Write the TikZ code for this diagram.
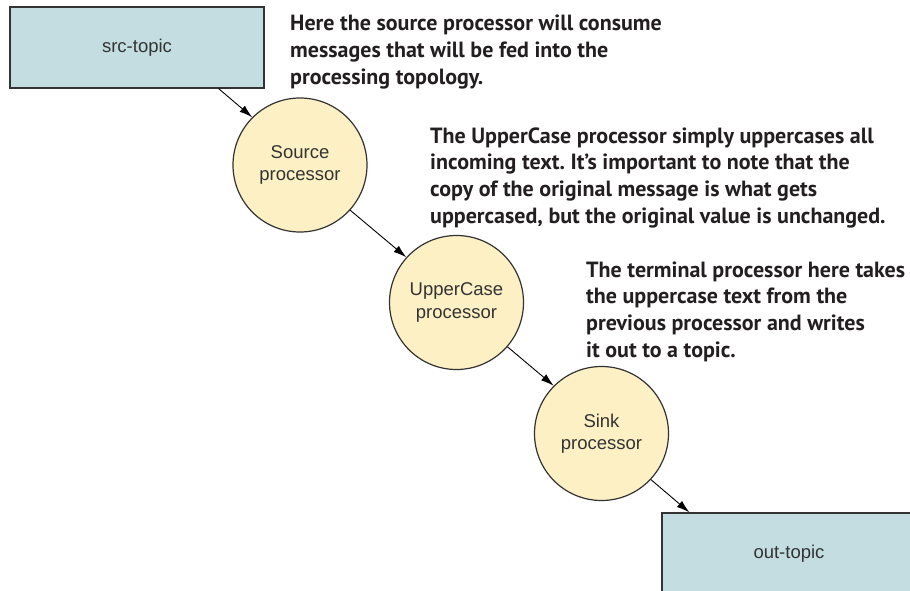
\documentclass[tikz,border=0pt]{standalone}
\usepackage{fontspec}
\setmainfont{Liberation Sans}
\newfontfamily\notefont{PT Sans}
\usetikzlibrary{arrows.meta}
\definecolor{topicfill}{HTML}{C4DDE1}
\definecolor{procfill}{HTML}{FDF0C5}
\definecolor{edgegray}{HTML}{333333}
\definecolor{notetext}{HTML}{231F20}
\frenchspacing
\begin{document}
\begin{tikzpicture}[x=1pt,y=-1pt,
  topic/.style={draw=edgegray, line width=1.2pt, fill=topicfill,
    minimum width=254pt, minimum height=81pt, inner sep=0pt,
    font=\fontsize{18.5}{22.3}\selectfont, text=edgegray},
  proc/.style={circle, draw=edgegray, line width=1.2pt, fill=procfill,
    minimum size=134pt, inner sep=0pt, align=center,
    font=\fontsize{18.5}{22.3}\selectfont, text=edgegray},
  flow/.style={draw=black, line width=0.9pt, -{Latex[length=13pt,width=8pt]}},
  note/.style={anchor=base west, inner sep=0pt, text=notetext,
    font=\notefont\bfseries\fontsize{22}{26.8}\selectfont}]

\useasboundingbox (0,0) rectangle (910,591);
\clip (0,0) rectangle (910,591);

% topics
\node[topic] (src) at (137,47.5) {src-topic};
\node[topic] (out) at (789,553.5) {out-topic};

% processors
\node[proc] (source) at (300,165) {Source\\processor};
\node[proc] (upper) at (456.5,302.5) {UpperCase\\processor};
\node[proc] (sink) at (601.5,433.5) {Sink\\processor};

% data flow
\draw[flow] ([xshift=-46pt]src.south east) -- (source.135);
\draw[flow] (source.-42) -- (upper.138);
\draw[flow] (upper.-41) -- (sink.135);
\draw[flow] (sink.-43) -- ([xshift=28pt]out.north west);

% annotations
\node[note] (n1) at (290,31) {\vtop{%
  \hbox{Here the source processor will consume}%
  \hbox{messages that will be fed into the}%
  \hbox{processing topology.}}};
\node[note] (n2) at (430,143) {\vtop{%
  \hbox{The UpperCase processor simply uppercases all}%
  \hbox{incoming text. It’s important to note that the}%
  \hbox{copy of the original message is what gets}%
  \hbox{uppercased, but the original value is unchanged.}}};
\node[note] (n3) at (586,277) {\vtop{%
  \hbox{The terminal processor here takes}%
  \hbox{the uppercase text from the}%
  \hbox{previous processor and writes}%
  \hbox{it out to a topic.}}};
\end{tikzpicture}
\end{document}
